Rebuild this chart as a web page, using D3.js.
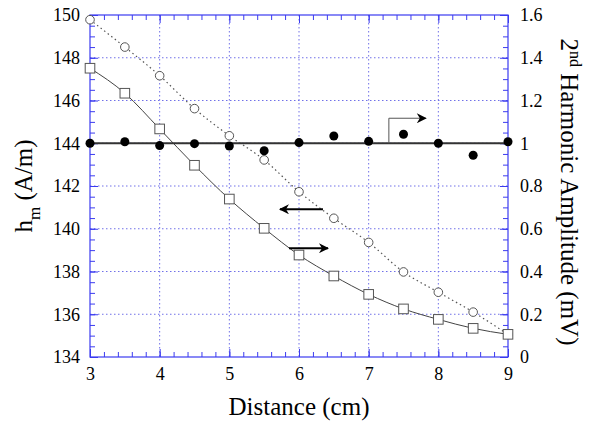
<!DOCTYPE html>
<html>
<head>
<meta charset="utf-8">
<script src="https://cdn.jsdelivr.net/npm/d3@7"></script>
<style>
  body { margin: 0; background: #fff; }
</style>
</head>
<body>
<script>
(function() {
    var w = 600;
    var h = 425;
    var margin = {top: 15, right: 92, bottom: 68, left: 90};
    var serif = "Liberation Serif";

    // data
    var distance = [3, 3.5, 4, 4.5, 5, 5.5, 6, 6.5, 7, 7.5, 8, 8.5, 9];
    var hmCircles = [149.78, 148.5, 147.16, 145.62, 144.35, 143.22, 141.73,
                     140.49, 139.36, 137.98, 137.03, 136.1, 135.06];
    var ampSquares = [1.351, 1.234, 1.067, 0.897, 0.739, 0.602, 0.477,
                      0.379, 0.293, 0.225, 0.176, 0.134, 0.106];
    var ampDots = [1.0, 1.007, 0.989, 0.998, 0.987, 0.965, 1.003,
                   1.034, 1.009, 1.042, 1.0, 0.944, 1.007];
    var ampFit = [1.0, 1.0]; // flat fit line, at x = 3 and x = 9
    var fitX = [3, 9];

    var xTicks = [3, 4, 5, 6, 7, 8, 9];
    var leftTicks = [134, 136, 138, 140, 142, 144, 146, 148, 150];
    var rightTicks = [0, 0.2, 0.4, 0.6, 0.8, 1, 1.2, 1.4, 1.6];

    var axisBlue = "#3b3bf0";
    var gridBlue = "#7070e8";

    var svg = d3.select("body").append("svg")
        .attr("width", w)
        .attr("height", h)
        .attr("font-family", serif);

    var x = d3.scaleLinear().domain([3, 9]).range([margin.left, w - margin.right]);
    var yL = d3.scaleLinear().domain([134, 150]).range([h - margin.bottom, margin.top]);
    var yR = d3.scaleLinear().domain([0, 1.6]).range([h - margin.bottom, margin.top]);

    var x0 = x.range()[0], x1 = x.range()[1];
    var yb = yL.range()[0], yt = yL.range()[1];

    // dotted grid
    var grid = svg.append("g")
        .attr("stroke", gridBlue)
        .attr("stroke-width", 1)
        .attr("stroke-dasharray", "1.5,2.5");
    grid.selectAll("line.gx")
        .data(xTicks.slice(1, -1))
        .enter().append("line")
        .attr("x1", function(d) { return x(d); })
        .attr("x2", function(d) { return x(d); })
        .attr("y1", yt).attr("y2", yb);
    grid.selectAll("line.gy")
        .data(leftTicks.slice(1, -1))
        .enter().append("line")
        .attr("x1", x0).attr("x2", x1)
        .attr("y1", function(d) { return yL(d); })
        .attr("y2", function(d) { return yL(d); });

    // minor ticks
    var minorX = d3.range(3, 9.001, 0.2);
    var minorL = d3.range(134, 150.001, 0.5);
    var minorR = d3.range(0, 1.6001, 0.05);

    function styleAxis(g) {
        g.attr("font-family", serif).attr("font-size", 18);
        g.select(".domain").remove();
        g.selectAll(".tick line").attr("stroke", axisBlue);
        g.selectAll(".tick text")
            .attr("fill", "#000")
            .attr("font-family", serif)
            .attr("font-size", 18);
    }

    svg.append("g")
        .attr("transform", "translate(0," + yb + ")")
        .call(d3.axisBottom(x).tickValues(minorX).tickSize(-5).tickFormat(""))
        .call(styleAxis);
    svg.append("g")
        .attr("transform", "translate(0," + yt + ")")
        .call(d3.axisTop(x).tickValues(minorX).tickSize(-5).tickFormat(""))
        .call(styleAxis);
    svg.append("g")
        .attr("transform", "translate(" + x0 + ",0)")
        .call(d3.axisLeft(yL).tickValues(minorL).tickSize(-5).tickFormat(""))
        .call(styleAxis);
    svg.append("g")
        .attr("transform", "translate(" + x1 + ",0)")
        .call(d3.axisRight(yR).tickValues(minorR).tickSize(-5).tickFormat(""))
        .call(styleAxis);

    // major ticks with labels
    svg.append("g")
        .attr("transform", "translate(0," + yb + ")")
        .call(d3.axisBottom(x).tickValues(xTicks).tickSize(-8).tickPadding(10)
            .tickFormat(d3.format("d")))
        .call(styleAxis);
    svg.append("g")
        .attr("transform", "translate(0," + yt + ")")
        .call(d3.axisTop(x).tickValues(xTicks).tickSize(-8).tickFormat(""))
        .call(styleAxis);
    svg.append("g")
        .attr("transform", "translate(" + x0 + ",0)")
        .call(d3.axisLeft(yL).tickValues(leftTicks).tickSize(-8).tickPadding(10)
            .tickFormat(d3.format("d")))
        .call(styleAxis);
    svg.append("g")
        .attr("transform", "translate(" + x1 + ",0)")
        .call(d3.axisRight(yR).tickValues(rightTicks).tickSize(-8).tickPadding(12)
            .tickFormat(function(d) { return String(+d.toFixed(1)); }))
        .call(styleAxis);

    // frame
    svg.append("rect")
        .attr("x", x0).attr("y", yt)
        .attr("width", x1 - x0).attr("height", yb - yt)
        .attr("fill", "none")
        .attr("stroke", axisBlue)
        .attr("stroke-width", 1.2);

    // lines
    var lineL = d3.line()
        .x(function(d, i) { return x(distance[i]); })
        .y(function(d) { return yL(d); })
        .curve(d3.curveMonotoneX);
    var lineR = d3.line()
        .x(function(d, i) { return x(distance[i]); })
        .y(function(d) { return yR(d); })
        .curve(d3.curveMonotoneX);

    svg.append("path")
        .attr("d", lineL(hmCircles))
        .attr("fill", "none")
        .attr("stroke", "#555")
        .attr("stroke-width", 1.2)
        .attr("stroke-dasharray", "1.5,3");

    svg.append("path")
        .attr("d", lineR(ampSquares))
        .attr("fill", "none")
        .attr("stroke", "#444")
        .attr("stroke-width", 1);

    svg.append("path")
        .attr("d", d3.line()
            .x(function(d, i) { return x(fitX[i]); })
            .y(function(d) { return yR(d); })(ampFit))
        .attr("fill", "none")
        .attr("stroke", "#333")
        .attr("stroke-width", 2.2);

    // markers
    svg.selectAll("circle.open")
        .data(hmCircles)
        .enter().append("circle")
        .attr("class", "open")
        .attr("cx", function(d, i) { return x(distance[i]); })
        .attr("cy", function(d) { return yL(d); })
        .attr("r", 4.3)
        .attr("fill", "#fff")
        .attr("stroke", "#555")
        .attr("stroke-width", 1);

    svg.selectAll("rect.sq")
        .data(ampSquares)
        .enter().append("rect")
        .attr("class", "sq")
        .attr("x", function(d, i) { return x(distance[i]) - 4.8; })
        .attr("y", function(d) { return yR(d) - 4.8; })
        .attr("width", 9.6).attr("height", 9.6)
        .attr("fill", "#fff")
        .attr("stroke", "#555")
        .attr("stroke-width", 1);

    svg.selectAll("circle.dot")
        .data(ampDots)
        .enter().append("circle")
        .attr("class", "dot")
        .attr("cx", function(d, i) { return x(distance[i]); })
        .attr("cy", function(d) { return yR(d); })
        .attr("r", 4.5)
        .attr("fill", "#000");

    // arrows pointing to the axis each curve belongs to
    svg.append("defs").append("marker")
        .attr("id", "head")
        .attr("viewBox", "0 0 10 10")
        .attr("refX", 9).attr("refY", 5)
        .attr("markerWidth", 14).attr("markerHeight", 10)
        .attr("markerUnits", "userSpaceOnUse")
        .attr("orient", "auto")
        .append("path")
        .attr("d", "M0,0 L10,5 L0,10 L3,5 Z")
        .attr("fill", "#000");

    var leftArrow = {from: [6.344, 140.91], to: [5.727, 140.91]};
    var rightArrow = {from: [5.856, 0.509], to: [6.416, 0.509]};
    var bentArrow = [[7.29, 1.0], [7.29, 1.117], [7.82, 1.117]];

    svg.append("line")
        .attr("x1", x(leftArrow.from[0])).attr("y1", yL(leftArrow.from[1]))
        .attr("x2", x(leftArrow.to[0])).attr("y2", yL(leftArrow.to[1]))
        .attr("stroke", "#000").attr("stroke-width", 2)
        .attr("marker-end", "url(#head)");
    svg.append("line")
        .attr("x1", x(rightArrow.from[0])).attr("y1", yR(rightArrow.from[1]))
        .attr("x2", x(rightArrow.to[0])).attr("y2", yR(rightArrow.to[1]))
        .attr("stroke", "#000").attr("stroke-width", 2)
        .attr("marker-end", "url(#head)");
    svg.append("path")
        .attr("d", d3.line()
            .x(function(d) { return x(d[0]); })
            .y(function(d) { return yR(d[1]); })(bentArrow))
        .attr("fill", "none")
        .attr("stroke", "#555").attr("stroke-width", 1)
        .attr("marker-end", "url(#head)");

    // axis titles
    svg.append("text")
        .attr("x", (x0 + x1) / 2)
        .attr("y", 415)
        .attr("text-anchor", "middle")
        .attr("font-family", serif)
        .attr("font-size", 25)
        .text("Distance (cm)");

    var lt = svg.append("text")
        .attr("transform", "translate(32," + ((yt + yb) / 2) + ") rotate(-90)")
        .attr("text-anchor", "middle")
        .attr("font-family", serif)
        .attr("font-size", 25);
    lt.append("tspan").text("h");
    lt.append("tspan").attr("dy", 8).attr("font-size", 17).text("m");
    lt.append("tspan").attr("dy", -8).text(" (A/m)");

    var rt = svg.append("text")
        .attr("transform", "translate(561," + ((yt + yb) / 2 + 6) + ") rotate(90)")
        .attr("text-anchor", "middle")
        .attr("font-family", serif)
        .attr("font-size", 25);
    rt.append("tspan").text("2");
    rt.append("tspan").attr("dy", -9).attr("font-size", 16).text("nd");
    rt.append("tspan").attr("dy", 9).text(" Harmonic Amplitude (mV)");
})();
</script>
</body>
</html>
